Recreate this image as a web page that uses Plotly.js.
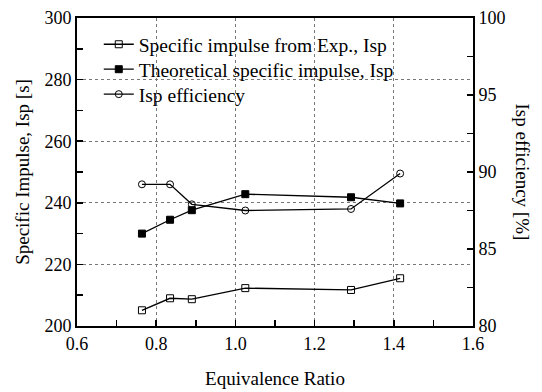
<!DOCTYPE html>
<html>
<head>
<meta charset="utf-8">
<script src="https://cdn.plot.ly/plotly-3.0.1.min.js"></script>
<style>html,body{margin:0;padding:0;background:#fff;}#chart{width:542px;height:392px;}</style>
</head>
<body>
<div id="chart"></div>
<script>
const phi = [0.764, 0.835, 0.890, 1.025, 1.292, 1.416];
const ispExp = [205.1, 209.0, 208.7, 212.3, 211.7, 215.5];
const ispTheo = [230.0, 234.5, 237.6, 242.8, 241.8, 239.8];
const ispEff = [89.2, 89.2, 87.9, 87.5, 87.6, 89.9];
const seriesNames = ['Specific impulse from Exp., Isp', 'Theoretical specific impulse, Isp', 'Isp efficiency'];

const FONT = 'Liberation Serif';
const lineStyle = {color: '#000', width: 1.3};

const traces = [
  {x: phi, y: ispExp, name: seriesNames[0], mode: 'lines+markers', line: lineStyle, legend: 'legend',
   marker: {symbol: 'square-open', size: 7, color: '#000', line: {width: 1, color: '#000'}}},
  {x: phi, y: ispTheo, name: seriesNames[1], mode: 'lines+markers', line: lineStyle, legend: 'legend2',
   marker: {symbol: 'square', size: 7, color: '#000', line: {width: 1, color: '#000'}}},
  {x: phi, y: ispEff, name: seriesNames[2], mode: 'lines+markers', yaxis: 'y2', line: lineStyle, legend: 'legend3',
   marker: {symbol: 'circle-open', size: 7, color: '#000', line: {width: 1, color: '#000'}}}
];

const gridStyle = {showgrid: true, gridcolor: '#777', griddash: 'dot', gridwidth: 1};
function leg(y) {
  return {x: 0.055, y: y, xanchor: 'left', yanchor: 'top', bgcolor: 'rgba(0,0,0,0)',
          font: {family: FONT, size: 19.5, color: '#000'}};
}

const layout = {
  width: 542, height: 392,
  margin: {l: 77, r: 69, t: 18, b: 66},
  paper_bgcolor: '#fff', plot_bgcolor: '#fff',
  font: {family: FONT, size: 18, color: '#000'},
  showlegend: true,
  legend: leg(0.977),
  legend2: leg(0.896),
  legend3: leg(0.815),
  xaxis: Object.assign({
    range: [0.6, 1.6], dtick: 0.2, tick0: 0.6, tickformat: '.1f',
    showline: true, linecolor: '#000', linewidth: 2, mirror: true,
    ticks: 'inside', ticklen: 6, tickwidth: 1.5, tickcolor: '#000',
    minor: {dtick: 0.1, ticks: 'inside', ticklen: 6, tickwidth: 1.5, tickcolor: '#000', showgrid: false},
    zeroline: false,
    title: {text: 'Equivalence Ratio', font: {family: FONT, size: 19}, standoff: 19}
  }, gridStyle),
  yaxis: Object.assign({
    range: [200, 300], dtick: 20, tick0: 200,
    showline: true, linecolor: '#000', linewidth: 2, mirror: false,
    ticks: 'inside', ticklen: 6, tickwidth: 1.5, tickcolor: '#000',
    minor: {dtick: 10, ticks: 'inside', ticklen: 6, tickwidth: 1.5, tickcolor: '#000', showgrid: false},
    zeroline: false,
    title: {text: 'Specific Impulse, Isp [s]', font: {family: FONT, size: 19}, standoff: 10}
  }, gridStyle),
  yaxis2: {
    overlaying: 'y', side: 'right', range: [80, 100], dtick: 5, tick0: 80,
    showline: true, linecolor: '#000', linewidth: 2, showgrid: false, zeroline: false,
    ticks: 'inside', ticklen: 6, tickwidth: 1.5, tickcolor: '#000',
    minor: {dtick: 2.5, ticks: 'inside', ticklen: 6, tickwidth: 1.5, tickcolor: '#000', showgrid: false}
  },
  annotations: [{
    text: 'Isp efficiency [%]', textangle: 90, xref: 'paper', yref: 'paper',
    x: 1.125, y: 0.5, xanchor: 'center', yanchor: 'middle', showarrow: false,
    font: {family: FONT, size: 19, color: '#000'}
  }]
};

Plotly.newPlot('chart', traces, layout, {displayModeBar: false, staticPlot: true});
</script>
</body>
</html>
